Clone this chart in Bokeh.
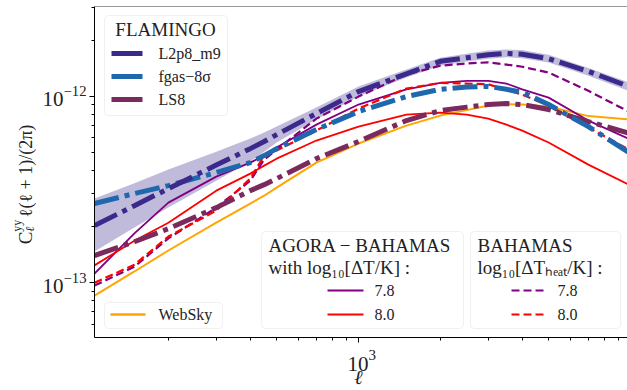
import math
from bokeh.plotting import figure
from bokeh.layouts import row, column
from bokeh.models import (Range1d, FixedTicker, Label, BoxAnnotation, Arrow, Span,
                          CustomJSTickFormatter)
from bokeh.embed import file_html
from bokeh.resources import INLINE

# ---------------- data ----------------
ell = [107, 150, 200, 300, 400, 450, 500, 700, 1000, 1500, 2000, 2500, 3000, 3500, 4000,
       5000, 7000, 10000]

L2p8_m9 = [2.03e-13, 2.59e-13, 3.20e-13, 4.28e-13, 5.24e-13, 5.72e-13, 6.23e-13, 8.08e-13,
           1.06e-12, 1.32e-12, 1.54e-12, 1.61e-12, 1.67e-12, 1.70e-12, 1.68e-12, 1.59e-12,
           1.36e-12, 1.12e-12]
L2p8_m9_lo = [1.47e-13, 1.98e-13, 2.53e-13, 3.53e-13, 4.47e-13, 5.05e-13, 5.65e-13, 7.50e-13,
              9.96e-13, 1.26e-12, 1.46e-12, 1.535e-12, 1.59e-12, 1.62e-12, 1.60e-12, 1.52e-12,
              1.29e-12, 1.06e-12]
L2p8_m9_hi = [2.83e-13, 3.42e-13, 4.05e-13, 5.05e-13, 5.93e-13, 6.39e-13, 6.88e-13, 8.70e-13,
              1.13e-12, 1.39e-12, 1.61e-12, 1.69e-12, 1.76e-12, 1.78e-12, 1.77e-12, 1.67e-12,
              1.42e-12, 1.18e-12]
fgas_8sigma = [2.66e-13, 3.01e-13, 3.32e-13, 3.90e-13, 4.41e-13, 4.81e-13, 5.24e-13, 6.63e-13,
               8.28e-13, 9.96e-13, 1.09e-12, 1.12e-12, 1.13e-12, 1.09e-12, 1.05e-12, 9.03e-13,
               6.88e-13, 4.93e-13]
LS8 = [1.40e-13, 1.66e-13, 1.95e-13, 2.53e-13, 3.12e-13, 3.36e-13, 3.62e-13, 4.63e-13,
       5.72e-13, 7.41e-13, 8.38e-13, 8.75e-13, 9.03e-13, 9.14e-13, 9.03e-13, 8.49e-13,
       7.32e-13, 6.31e-13]
websky = [8.54e-14, 1.15e-13, 1.49e-13, 2.10e-13, 2.66e-13, 2.93e-13, 3.24e-13, 4.41e-13,
          5.58e-13, 6.96e-13, 7.88e-13, 8.43e-13, 8.92e-13, 9.08e-13, 9.03e-13, 8.81e-13,
          7.83e-13, 7.50e-13]
agora_78 = [1.12e-13, 1.84e-13, 2.69e-13, 3.71e-13, 4.41e-13, 4.81e-13, 5.31e-13, 7.05e-13,
            9.03e-13, 1.09e-12, 1.18e-12, 1.21e-12, 1.21e-12, 1.17e-12, 1.09e-12, 9.84e-13,
            7.41e-13, 5.86e-13]
agora_80 = [1.24e-13, 1.68e-13, 2.10e-13, 3.12e-13, 3.85e-13, 4.25e-13, 4.63e-13, 5.79e-13,
            6.88e-13, 7.98e-13, 8.18e-13, 7.98e-13, 7.59e-13, 7.05e-13, 6.55e-13, 5.65e-13,
            4.30e-13, 3.32e-13]
bahamas_78 = [9.66e-14, 1.22e-13, 1.73e-13, 2.53e-13, 3.53e-13, 4.58e-13, 5.18e-13, 7.59e-13,
              9.96e-13, 1.31e-12, 1.46e-12, 1.50e-12, 1.52e-12, 1.48e-12, 1.44e-12, 1.34e-12,
              1.07e-12, 8.18e-13]
bahamas_80 = [1.00e-13, 1.25e-13, 1.77e-13, 2.44e-13, 3.62e-13, 4.81e-13, 5.12e-13, 6.55e-13,
              8.59e-13, 1.10e-12, 1.18e-12, 1.17e-12, 1.16e-12, 1.08e-12, 1.02e-12, 8.92e-13,
              6.80e-13, 5.12e-13]

x_major = [1e3]
x_minor = [200, 300, 400, 500, 600, 700, 800, 900, 2000, 3000, 4000, 5000, 6000, 7000, 8000, 9000]
y_major = [1e-13, 1e-12]
y_minor = [6e-14, 7e-14, 8e-14, 9e-14, 2e-13, 3e-13, 4e-13, 5e-13, 6e-13, 7e-13, 8e-13, 9e-13,
           2e-12, 3e-12]

# ---------------- layout ----------------
FONT = "Liberation Serif"
W, H = 627, 390
LW = 36                      # width of the strip holding the y-axis title
MH = 344                     # height of the main row (frame bottom + ticks)
FL, FT, FB = 94, 6, 337      # frame edges in page pixels
X_RANGE = (107, 9750)
Y_RANGE = (5.09e-14, 3.03e-12)

C_L2P8 = "#3b2a8c"
C_FGAS = "#1f68ad"
C_LS8 = "#7a2a5c"
C_WEB = "orange"
C_78 = "purple"
C_80 = "red"
TXT = "#222222"

xr = Range1d(*X_RANGE)
p = figure(width=W - LW, height=MH, x_axis_type="log", y_axis_type="log",
           x_range=xr, y_range=Range1d(*Y_RANGE),
           output_backend="svg", toolbar_location=None,
           min_border_left=FL - LW, min_border_right=0, min_border_top=FT,
           min_border_bottom=MH - FB)
p.outline_line_color = None
p.grid.visible = False
p.background_fill_color = "white"
p.border_fill_color = "white"

for ax in (p.xaxis[0], p.yaxis[0]):
    ax.axis_line_color = "black"
    ax.axis_line_width = 1
    ax.major_tick_in = 0
    ax.major_tick_out = 5
    ax.minor_tick_in = 0
    ax.minor_tick_out = 3
    ax.major_tick_line_color = "black"
    ax.minor_tick_line_color = "black"
    ax.major_label_text_font = FONT
    ax.major_label_text_font_size = "21px"
    ax.major_label_text_color = TXT
p.xaxis[0].ticker = FixedTicker(ticks=x_major, minor_ticks=x_minor)
p.yaxis[0].ticker = FixedTicker(ticks=y_major, minor_ticks=y_minor)
p.yaxis[0].major_label_standoff = 3
# x tick labels are drawn in the strip below (same x scale)
p.xaxis[0].formatter = CustomJSTickFormatter(code="return ''")
p.xaxis[0].major_label_text_font_size = "0px"
p.xaxis[0].major_label_standoff = 0
p.add_layout(Span(location=Y_RANGE[1], dimension="width", line_color="#333333", line_width=1))

# ---------------- series ----------------
p.varea(x=ell, y1=L2p8_m9_lo, y2=L2p8_m9_hi, fill_color=C_L2P8, fill_alpha=0.32)
p.line(ell, websky, line_color=C_WEB, line_width=2)
p.line(ell, agora_78, line_color=C_78, line_width=1.8)
p.line(ell, agora_80, line_color=C_80, line_width=1.8)
p.line(ell, bahamas_78, line_color=C_78, line_width=2.2, line_dash="8 4")
p.line(ell, bahamas_80, line_color=C_80, line_width=2.2, line_dash="8 4")
DD = "25 6 5 6"
p.line(ell, LS8, line_color=C_LS8, line_width=5, line_dash=DD)
p.line(ell, fgas_8sigma, line_color=C_FGAS, line_width=5, line_dash=DD)
p.line(ell, L2p8_m9, line_color=C_L2P8, line_width=5, line_dash=DD)


# ---------------- legends (positions in page pixels) ----------------
def sx(px):
    return px - FL


def sy(py):
    return FB - py


def box(l, t, r, b):
    p.add_layout(BoxAnnotation(left=sx(l), right=sx(r), top=sy(t), bottom=sy(b),
                               left_units="screen", right_units="screen",
                               top_units="screen", bottom_units="screen",
                               fill_color="white", fill_alpha=0.85,
                               line_color="#cccccc", line_width=1, border_radius=4))


def sample(x0, x1, y, color, width, dash="solid"):
    p.add_layout(Arrow(end=None, x_start=sx(x0), y_start=sy(y), x_end=sx(x1), y_end=sy(y),
                       start_units="screen", end_units="screen",
                       line_color=color, line_width=width, line_dash=dash))


def text(fig, x, y, t, size=16, align="left", baseline="middle", style="normal", angle=0.0,
         units="screen", x_units=None, x_offset=0):
    fig.add_layout(Label(x=x, y=y, x_units=x_units or units, y_units=units, text=t,
                         x_offset=x_offset,
                         text_font=FONT, text_font_size=f"{size}px", text_align=align,
                         text_baseline=baseline, text_font_style=style, angle=angle,
                         text_color=TXT))


def ptext(px, py, t, size=16, align="left"):
    text(p, sx(px), sy(py), t, size, align)


# FLAMINGO legend
box(104, 15, 227, 115)
ptext(165, 29, "FLAMINGO", 19, align="center")
for yy, col, lab in [(53, C_L2P8, "L2p8_m9"), (76, C_FGAS, "fgas−8σ"), (99, C_LS8, "LS8")]:
    sample(111, 142, yy, col, 5)
    ptext(158, yy, lab, 16)

# WebSky legend
box(104, 302, 222, 328)
sample(110, 145, 314, C_WEB, 2.5)
ptext(158, 314, "WebSky", 16)

# AGORA legend
box(261, 231, 463, 328)
ptext(268, 245, "AGORA − BAHAMAS", 19)
ptext(268, 267, "with log₁₀[ΔT/K] :", 19)
sample(327, 363, 290, C_78, 2)
ptext(374, 290, "7.8", 16)
sample(327, 363, 314, C_80, 2)
ptext(374, 314, "8.0", 16)

# BAHAMAS legend
box(470, 231, 620, 328)
ptext(477, 245, "BAHAMAS", 19)
ptext(477, 267, "log₁₀[ΔTₕₑₐₜ/K] :", 19)
sample(511, 545, 290, C_78, 2.2, "8 4")
ptext(557, 290, "7.8", 16)
sample(511, 545, 314, C_80, 2.2, "8 4")
ptext(557, 314, "8.0", 16)


def strip(width, height, x_range, border_left=0):
    f = figure(width=width, height=height, x_range=x_range, y_range=Range1d(H, H - height),
               x_axis_type="log" if border_left else "linear",
               output_backend="svg", toolbar_location=None,
               min_border_left=border_left, min_border_right=0, min_border_top=0,
               min_border_bottom=0)
    f.axis.visible = False
    f.grid.visible = False
    f.outline_line_color = None
    f.background_fill_color = "white"
    f.border_fill_color = "white"
    return f


# ---------------- y-axis title strip ----------------
q = figure(width=LW, height=MH, x_range=Range1d(0, LW), y_range=Range1d(MH, 0),
           output_backend="svg", toolbar_location=None,
           min_border_left=0, min_border_right=0, min_border_top=0, min_border_bottom=0)
q.axis.visible = False
q.grid.visible = False
q.outline_line_color = None
q.background_fill_color = "white"
q.border_fill_color = "white"
A = math.pi / 2
text(q, 25, 247, "C", 19, baseline="alphabetic", angle=A, units="data")
text(q, 16, 234, "yy", 12, baseline="alphabetic", angle=A, units="data")
text(q, 29, 234, "ℓ", 12, baseline="alphabetic", style="italic", angle=A, units="data")
text(q, 25, 219, "ℓ(ℓ + 1)/(2π)", 18, baseline="alphabetic", angle=A, units="data")

# ---------------- x tick label + x title strip (shares the x scale) ----------------
r = strip(W, H - MH, xr, border_left=FL)
for tv in x_major:
    expo = str(int(round(math.log10(tv))))
    text(r, tv, 363, "10", 21, align="right", baseline="alphabetic", units="data", x_offset=10)
    text(r, tv, 354, expo, 15, align="left", baseline="alphabetic", units="data", x_offset=10)
text(r, x_major[0], 376, "ℓ", 20, align="center", baseline="alphabetic", style="italic",
     units="data")

layout = column(row(q, p, spacing=0), r, spacing=0)
open("out.html", "w").write(file_html(layout, INLINE))
